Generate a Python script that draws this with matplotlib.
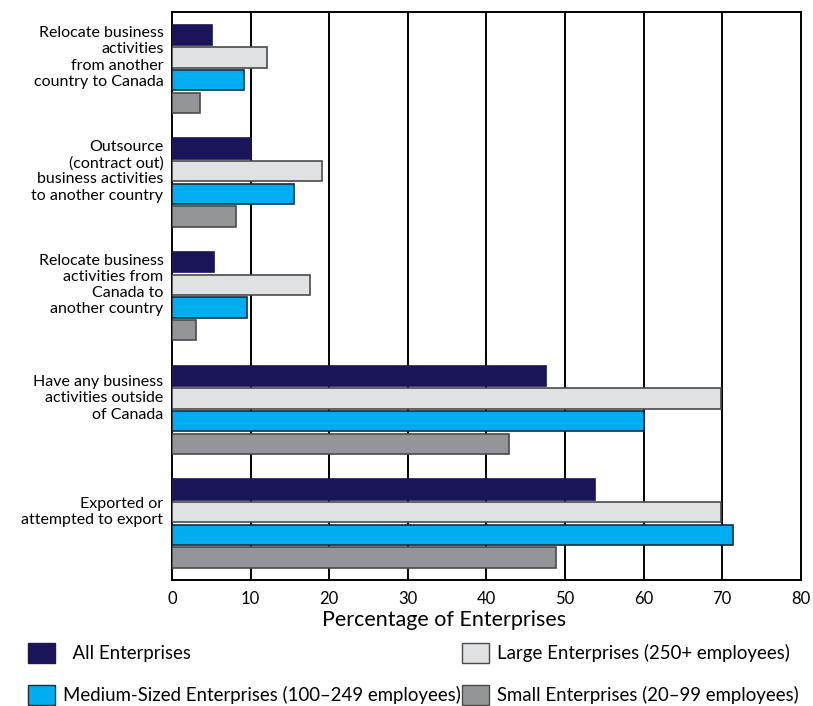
import matplotlib.pyplot as plt
from matplotlib.patches import Patch

plt.rcParams['font.family'] = ['Lato', 'DejaVu Sans']

categories = [
    'Relocate business\nactivities\nfrom another\ncountry to Canada',
    'Outsource\n(contract out)\nbusiness activities\nto another country',
    'Relocate business\nactivities from\nCanada to\nanother country',
    'Have any business\nactivities outside\nof Canada',
    'Exported or\nattempted to export',
]
series_names = [
    'All Enterprises',
    'Large Enterprises (250+ employees)',
    'Medium-Sized Enterprises (100\u2013249 employees)',
    'Small Enterprises (20\u201399 employees)',
]
all_ent = [5.1, 10.1, 5.3, 47.6, 53.8]
large_ent = [12.1, 19.1, 17.6, 69.8, 69.9]
medium_ent = [9.1, 15.5, 9.5, 60.0, 71.4]
small_ent = [3.5, 8.2, 3.1, 42.9, 48.8]

values = [all_ent, large_ent, medium_ent, small_ent]
colors = ['#1a1558', '#e0e1e3', '#00aeef', '#939598']
edges = ['#1a1558', '#4a4a4a', '#1a2a40', '#4a4a4a']

fig = plt.figure(figsize=(8.13, 7.06), dpi=100)
ax = fig.add_axes([0.2116, 0.178, 0.7734, 0.805])

for j, (vals, c, ec) in enumerate(zip(values, colors, edges)):
    ys = [5 * i + j + 1 for i in range(len(categories))]
    ax.barh(ys, vals, height=0.9, color=c, edgecolor=ec, linewidth=1.2, zorder=3)

ax.set_xlim(0, 80)
ax.set_ylim(25, 0)
ax.set_xticks(range(0, 81, 10))
ax.set_yticks([])
for x in range(10, 80, 10):
    ax.axvline(x, color='black', linewidth=1.4, zorder=1)
for s in ax.spines.values():
    s.set_linewidth(1.4)
    s.set_color('black')
ax.tick_params(axis='x', length=0, labelsize=12, pad=8)
ax.set_xlabel('Percentage of Enterprises', fontsize=15.5, labelpad=1)
ax.xaxis.set_label_coords(0.432, -0.053)

for i, cat in enumerate(categories):
    ax.text(-1.1, 5 * i + 2.0, cat, ha='right', va='center', fontsize=11.5,
            linespacing=1.2)

handles = [Patch(facecolor=colors[0], edgecolor=colors[0]),
           Patch(facecolor=colors[2], edgecolor='#1a2a40'),
           Patch(facecolor=colors[1], edgecolor='#4a4a4a'),
           Patch(facecolor=colors[3], edgecolor='#4a4a4a')]
labels = ['  All Enterprises', series_names[2], series_names[1], series_names[3]]
fig.legend(handles, labels, loc='lower left', bbox_to_anchor=(0.033, 0.0),
           ncol=2, frameon=False, fontsize=13.4, handlelength=1.45,
           handleheight=1.3, handletextpad=0.45, columnspacing=0.05,
           labelspacing=1.15, borderpad=0.05, borderaxespad=0.0)

fig.savefig('out.png', dpi=100)
